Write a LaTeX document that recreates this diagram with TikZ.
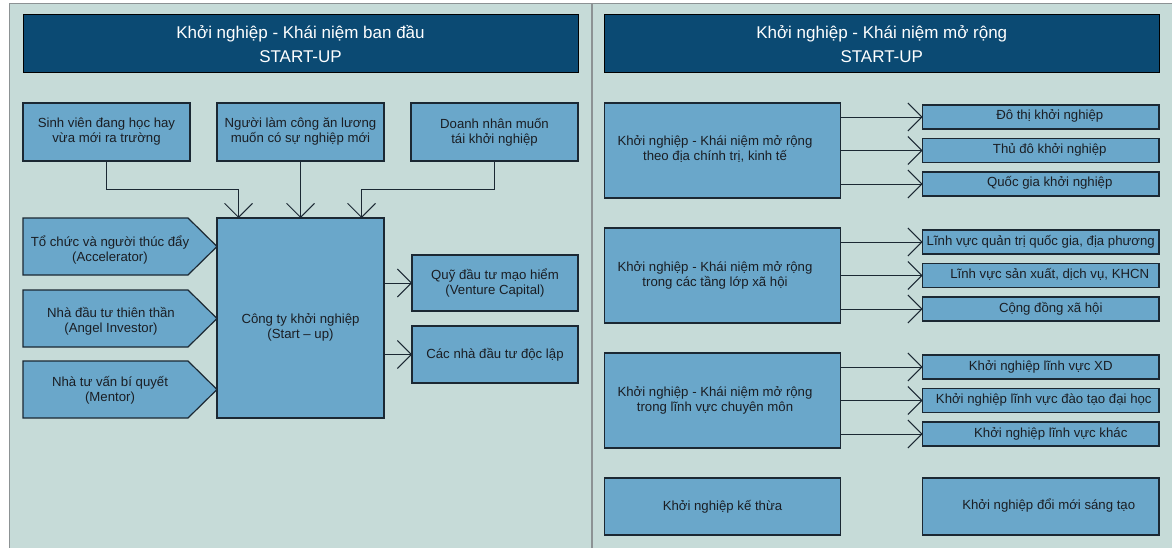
\documentclass[tikz,border=0pt]{standalone}
\usepackage{fontspec}
\setmainfont{Liberation Sans}
\usetikzlibrary{arrows.meta}

\definecolor{panelbg}{HTML}{C6DBD8}
\definecolor{boxfill}{HTML}{6AA7CA}
\definecolor{headfill}{HTML}{0B4A73}
\definecolor{edge}{HTML}{1B2833}
\definecolor{ink}{HTML}{1A1E24}
\definecolor{frame}{HTML}{8C9294}

% centred block of lines, pushed left / right by half of #1
\newcommand\tleft[2]{\begin{tabular}{@{}c@{}}#2\end{tabular}\hspace*{#1}}
\newcommand\tright[2]{\hspace*{#1}\begin{tabular}{@{}c@{}}#2\end{tabular}}

\tikzset{
  box/.style={draw=edge, fill=boxfill, line width=1.2pt, inner sep=2pt, outer sep=0pt,
    font=\fontsize{13.2}{15}\selectfont, text=ink, align=center},
  txt/.style={font=\fontsize{13.2}{15}\selectfont, text=ink, align=center, inner sep=0pt},
  head/.style={draw=black, fill=headfill, line width=1pt, outer sep=0pt,
    text=white, font=\fontsize{17}{24}\selectfont, align=center},
  link/.style={draw=edge, line width=0.9pt,
    -{Straight Barb[length=14pt,width=28pt,line width=0.9pt]}},
}

\begin{document}
\begin{tikzpicture}[x=1pt, y=-1pt]
\useasboundingbox (0,0) rectangle (1172,548);
\fill[white] (0,0) rectangle (1172,548);

% two panels
\fill[panelbg] (9.5,3.5) rectangle (1172,548);
\draw[frame, line width=1.4pt] (9.5,548) -- (9.5,3.5) -- (1172,3.5);
\draw[frame, line width=1.4pt] (592,3.5) -- (592,548);

% ---------------- left panel ----------------
\node[head, minimum width=555pt, minimum height=58pt] (hl) at (300.5,44)
  {Khởi nghiệp - Khái niệm ban đầu\\START-UP};

\node[box, minimum width=167pt, minimum height=58pt] (b1) at (106.5,132)
  {Sinh viên đang học hay\\vừa mới ra trường};
\node[box, minimum width=167pt, minimum height=58pt] (b2) at (300.5,132)
  {Người làm công ăn lương\\muốn có sự nghiệp mới};
\node[box, minimum width=167pt, minimum height=58pt] (b3) at (494.5,132)
  {Doanh nhân muốn\\tái khởi nghiệp};

\node[box, minimum width=167pt, minimum height=200pt] (cb) at (300.5,318)
  {\raisebox{-13pt}[0pt][0pt]{\begin{tabular}{@{}c@{}}Công ty khởi nghiệp\\(Start – up)\end{tabular}}};

% pointed boxes on the left of the company box
\draw[edge, fill=boxfill, line width=1.2pt, line join=miter]
  (23,218) -- (188,218) -- (217,246.5) -- (188,275) -- (23,275) -- cycle;
\node[txt] (acc) at (110,250.5) {Tổ chức và người thúc đẩy\\(Accelerator)};
\draw[edge, fill=boxfill, line width=1.2pt, line join=miter]
  (23,290) -- (188,290) -- (217,318.5) -- (188,347) -- (23,347) -- cycle;
\node[txt] (ang) at (111,321.5) {Nhà đầu tư thiên thần\\(Angel Investor)};
\draw[edge, fill=boxfill, line width=1.2pt, line join=miter]
  (23,361) -- (188,361) -- (217,389.5) -- (188,418) -- (23,418) -- cycle;
\node[txt] (men) at (110,390.5) {Nhà tư vấn bí quyết\\(Mentor)};

\node[box, minimum width=166pt, minimum height=56pt] (r1) at (495,283)
  {Quỹ đầu tư mạo hiểm\\(Venture Capital)};
\node[box, minimum width=166pt, minimum height=57pt] (r2) at (495,354.5)
  {Các nhà đầu tư độc lập};

\draw[link] (b1.south) -- ++(0,28) -| ([xshift=-62pt]cb.north);
\draw[link] (b2.south) -- (cb.north);
\draw[link] (b3.south) -- ++(0,28) -| ([xshift=61pt]cb.north);
\draw[link] (cb.east |- r1.west) -- (r1.west);
\draw[link] (cb.east |- r2.west) -- (r2.west);

% ---------------- right panel ----------------
\node[head, minimum width=554.5pt, minimum height=58pt] (hr) at (881.75,44)
  {Khởi nghiệp - Khái niệm mở rộng\\START-UP};

% group 1
\node[box, minimum width=236pt, minimum height=95pt] (g1) at (722.5,150.5)
  {\tleft{15pt}{Khởi nghiệp - Khái niệm mở rộng\\theo địa chính trị, kinh tế}};
\node[box, minimum width=236.5pt, minimum height=24pt] (g1a) at (1040.75,117)
  {\tright{18pt}{Đô thị khởi nghiệp}};
\node[box, minimum width=236.5pt, minimum height=24pt] (g1b) at (1040.75,150.5)
  {\tright{18pt}{Thủ đô khởi nghiệp}};
\node[box, minimum width=236.5pt, minimum height=24pt] (g1c) at (1040.75,184)
  {\tright{18pt}{Quốc gia khởi nghiệp}};

% group 2
\node[box, minimum width=236pt, minimum height=95pt] (g2) at (722.5,275.5)
  {\tleft{15pt}{Khởi nghiệp - Khái niệm mở rộng\\trong các tầng lớp xã hội}};
\node[box, minimum width=236.5pt, minimum height=24pt] (g2a) at (1040.75,242)
  {Lĩnh vực quản trị quốc gia, địa phương};
\node[box, minimum width=236.5pt, minimum height=24pt] (g2b) at (1040.75,275.5)
  {\tright{18pt}{Lĩnh vực sản xuất, dịch vụ, KHCN}};
\node[box, minimum width=236.5pt, minimum height=24pt] (g2c) at (1040.75,309)
  {\tright{20pt}{Cộng đồng xã hội}};

% group 3
\node[box, minimum width=236pt, minimum height=95pt] (g3) at (722.5,400.5)
  {\tleft{15pt}{Khởi nghiệp - Khái niệm mở rộng\\trong lĩnh vực chuyên môn}};
\node[box, minimum width=236.5pt, minimum height=24pt] (g3a) at (1040.75,367)
  {Khởi nghiệp lĩnh vực XD};
\node[box, minimum width=236.5pt, minimum height=24pt] (g3b) at (1040.75,400.5)
  {\tright{6pt}{Khởi nghiệp lĩnh vực đào tạo đại học}};
\node[box, minimum width=236.5pt, minimum height=24pt] (g3c) at (1040.75,434)
  {\tright{20pt}{Khởi nghiệp lĩnh vực khác}};

% bottom row
\node[box, minimum width=236pt, minimum height=57pt] (k1) at (722.5,506.5)
  {Khởi nghiệp kế thừa};
\node[box, minimum width=236.5pt, minimum height=57pt] (k2) at (1040.75,506.5)
  {\tright{16pt}{Khởi nghiệp đổi mới sáng tạo}};

\foreach \g in {g1,g2,g3}{
  \foreach \s in {a,b,c}{
    \draw[link] (\g.east |- \g\s.west) -- (\g\s.west);
  }
}
\end{tikzpicture}
\end{document}
